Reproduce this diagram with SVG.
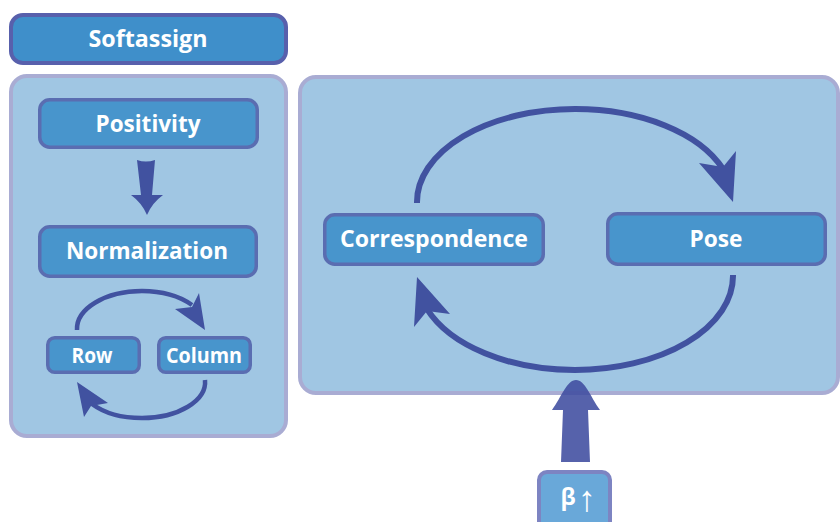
<svg xmlns="http://www.w3.org/2000/svg" width="840" height="522" viewBox="0 0 840 522">
  <style>
    .panel { fill: #a0c6e3; stroke: #a9acd3; stroke-width: 4; }
    .box { fill: #4895cc; stroke: #5a6db1; stroke-width: 3.5; }
    .title { fill: #3f8fca; stroke: #5860ac; stroke-width: 4; }
    .lbl { font-family: "Open Sans", "Noto Sans", sans-serif; font-weight: 700; fill: #ffffff; text-anchor: middle; }
    .arc { fill: none; stroke: #4152a0; }
    .head { fill: #4152a0; }
  </style>

  <!-- background panels -->
  <g id="softassign-panel">
    <rect class="panel" x="11" y="76" width="275" height="360" rx="16"/>
  </g>
  <g id="loop-panel">
    <rect class="panel" x="300" y="77" width="538" height="316" rx="16"/>
  </g>

  <!-- nodes -->
  <g id="softassign">
    <rect class="title" x="11" y="15" width="275" height="48" rx="12"/>
    <text class="lbl" x="148" y="47" font-size="24" textLength="119" lengthAdjust="spacingAndGlyphs">Softassign</text>
  </g>
  <g id="positivity">
    <rect class="box" x="39.75" y="99.75" width="217.5" height="47.5" rx="10"/>
    <text class="lbl" x="148" y="132" font-size="24" textLength="105" lengthAdjust="spacingAndGlyphs">Positivity</text>
  </g>
  <g id="normalization">
    <rect class="box" x="39.75" y="226.75" width="216.5" height="49.5" rx="10"/>
    <text class="lbl" x="147" y="259" font-size="24" textLength="162" lengthAdjust="spacingAndGlyphs">Normalization</text>
  </g>
  <g id="row">
    <rect class="box" x="47.75" y="337.75" width="91.5" height="34.5" rx="7"/>
    <text class="lbl" x="92" y="363" font-size="21" textLength="41" lengthAdjust="spacingAndGlyphs">Row</text>
  </g>
  <g id="column">
    <rect class="box" x="158.75" y="337.75" width="91.5" height="34.5" rx="7"/>
    <text class="lbl" x="204" y="363" font-size="21" textLength="76" lengthAdjust="spacingAndGlyphs">Column</text>
  </g>
  <g id="correspondence">
    <rect class="box" x="324.75" y="214.75" width="218.5" height="49.5" rx="10"/>
    <text class="lbl" x="434" y="247" font-size="24" textLength="188" lengthAdjust="spacingAndGlyphs">Correspondence</text>
  </g>
  <g id="pose">
    <rect class="box" x="607.75" y="213.75" width="217.5" height="50.5" rx="10"/>
    <text class="lbl" x="716" y="247" font-size="24" textLength="53" lengthAdjust="spacingAndGlyphs">Pose</text>
  </g>
  <g id="beta">
    <rect x="539" y="472" width="71" height="60" rx="8" fill="#69a8d9" stroke="#7d84c2" stroke-width="4"/>
    <text class="lbl" x="568" y="505" font-size="23">β</text>
    <text class="lbl" x="587" y="511" font-size="36" font-family="DejaVu Sans, sans-serif" font-weight="700">↑</text>
  </g>

  <!-- connectors -->
  <g id="connectors">
    <!-- Positivity to Normalization -->
    <path class="head" d="M137,160 Q146,163 155,160 L152,195 L163,195 Q152,203 147,215 Q142,203 131,195 L141,195 Z"/>

    <!-- Row / Column cycle -->
    <path class="arc" stroke-width="4.5" d="M77,330 A65,38 0 0 1 142,291 A65,38 0 0 1 192,305"/>
    <polygon class="head" points="205,330 199,293 192,307 175,309"/>
    <path class="arc" stroke-width="4.5" d="M205,380 A63,36 0 0 1 142,418 A63,36 0 0 1 92,404"/>
    <polygon class="head" points="77,382 84,417 91,406 108,403"/>

    <!-- Correspondence / Pose cycle -->
    <path class="arc" stroke-width="6" d="M417,203 L417,202 A158,93 0 0 1 575,109 A158,93 0 0 1 723,169"/>
    <polygon class="head" points="733,202 736,151 723,167 699,163"/>
    <path class="arc" stroke-width="6" d="M733,275 L733,276 A158,94 0 0 1 575,370 A158,94 0 0 1 427,309"/>
    <polygon class="head" points="417,277 414,327 427,311 450,314"/>

    <!-- beta increase drives the loop -->
    <path fill="#3f4c9f" fill-opacity="0.88" d="M576,380 C585,380 590,396 600,410 L588,410 L590,462 L561,462 L563,410 L552,410 C562,396 567,380 576,380 Z"/>
  </g>
</svg>
